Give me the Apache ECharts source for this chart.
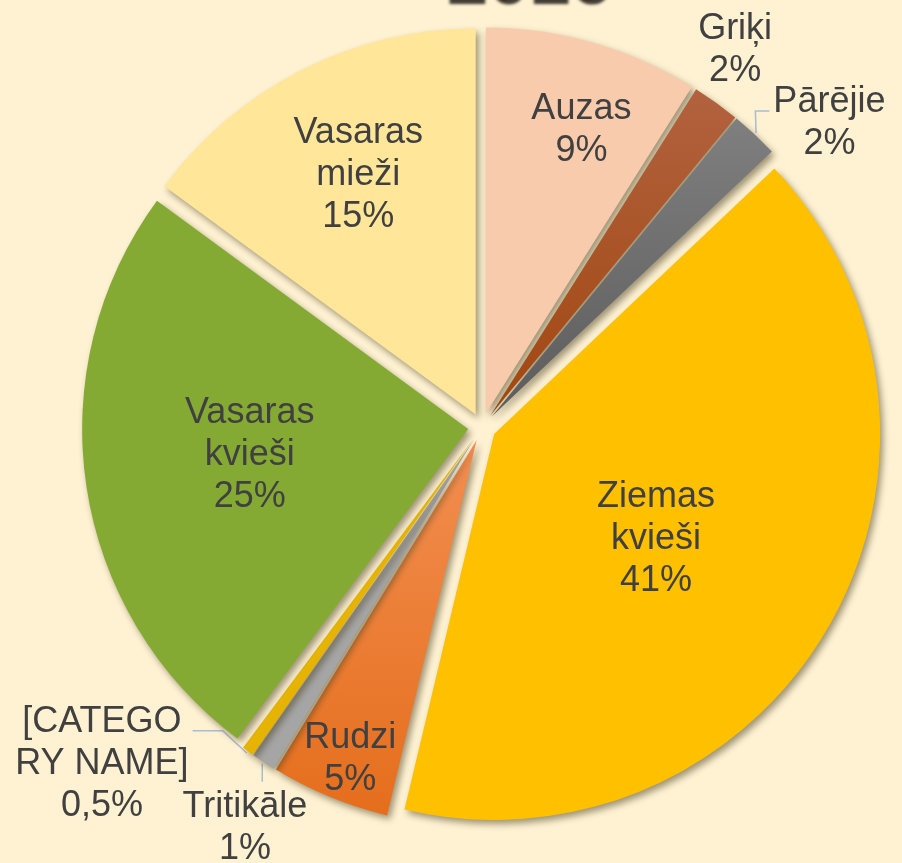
<!DOCTYPE html>
<html>
<head>
<meta charset="utf-8">
<title>2016</title>
<script src="https://cdn.jsdelivr.net/npm/echarts@6/dist/echarts.min.js"></script>
<style>
  html, body { margin: 0; padding: 0; background: #FEF2D2; }
  #main { width: 902px; height: 863px; }
</style>
</head>
<body>
<div id="main"></div>
<script>
// dati (%), pulksteņa rādītāja virzienā no augšas
const categories = ['Auzas', 'Griķi', 'Pārējie', 'Ziemas\nkvieši', 'Rudzi', 'Tritikāle', '[CATEGO\nRY NAME]', 'Vasaras\nkvieši', 'Vasaras\nmieži']
const values = [9, 2, 2, 41, 5, 1, 0.5, 25, 15]

// izskats
const colors = ['#F8CBAD', ['#B2623F', '#A14710'], ['#7F7F7F', '#5C5C5C'], '#FFC000', ['#F28E50', '#E56E1C'], '#A5A5A5', '#E6B400', '#84AA33', '#FFE699']
const labelRadius = [0.775, 1.14, 1.16, 0.5, 0.89, 1.17, 1.28, 0.57, 0.69] // daļa no rādiusa
const labelAngleShift = [2.5, -2, 6, 3, -0.8, -2.6, 13, 1.6, 0.7]
const outside = [false, true, true, false, false, true, true, false, false]
const showLine = [false, false, true, false, false, true, true, false, false]
const CX = 482, CY = 427, R = 386, OFFSET = 14

const total = values.reduce((a, b) => a + b, 0)
const mids = []
let acc = 0
values.forEach(v => { mids.push((acc + v / 2) / total * 360); acc += v })

const fillOf = c => Array.isArray(c)
  ? new echarts.graphic.LinearGradient(0, 0, 0, 1, [{ offset: 0, color: c[0] }, { offset: 1, color: c[1] }])
  : c

const polar = (deg, d) => {
  const a = deg * Math.PI / 180
  return [CX + Math.sin(a) * d, CY - Math.cos(a) * d]
}

const option = {
  backgroundColor: '#FEF2D2',
  title: {
    text: '2016',
    left: 438,
    top: -62,
    textStyle: {
      fontFamily: 'Liberation Sans',
      fontWeight: 'bold',
      fontSize: 74,
      color: '#5C1800',
      textShadowColor: 'rgba(0,0,0,0.75)',
      textShadowBlur: 3,
      textShadowOffsetX: 4,
      textShadowOffsetY: 4
    }
  },
  series: [{
    type: 'pie',
    center: [CX, CY],
    radius: R,
    startAngle: 90,
    clockwise: true,
    selectedMode: 'multiple',
    selectedOffset: OFFSET,
    avoidLabelOverlap: false,
    animation: false,
    emphasis: { disabled: true },
    itemStyle: {
      shadowBlur: 7,
      shadowColor: 'rgba(60,50,20,0.5)',
      shadowOffsetX: 3,
      shadowOffsetY: 4
    },
    label: {
      show: true,
      position: 'inside',
      fontFamily: 'Liberation Sans',
      fontSize: 36,
      lineHeight: 42,
      color: '#404040',
      align: 'center',
      formatter: p => p.name + '\n' + String(p.value).replace('.', ',') + '%'
    },
    labelLine: {
      lineStyle: { color: '#A9BCD0', width: 1.5 }
    },
    labelLayout: p => {
      const i = p.dataIndex
      const r = p.labelRect
      const [tx, ty] = polar(mids[i] + labelAngleShift[i], labelRadius[i] * R)
      const ax = p.align === 'left' ? r.x : p.align === 'right' ? r.x + r.width : r.x + r.width / 2
      const res = { align: 'center', dx: tx - ax, dy: ty - (r.y + r.height / 2) }
      if (showLine[i]) {
        // label and line end up shifted by the selection offset
        const ox = OFFSET * Math.sin(mids[i] * Math.PI / 180)
        const oy = -OFFSET * Math.cos(mids[i] * Math.PI / 180)
        const L = tx - r.width / 2, Rt = tx + r.width / 2, T = ty - r.height / 2
        const [sx, sy] = polar(mids[i], R + 2)
        let pts
        if (sy < T) {
          const ex = Math.min(Math.max(sx, L + 20), Rt - 20)
          pts = [[sx, sy], [ex, T - 4]]
        } else {
          const right = sx > Rt
          const ex = right ? Rt + 4 : L - 4
          const ey = T + 30
          pts = [[sx, sy], [ex + (right ? 30 : -14), ey], [ex, ey]]
        }
        res.labelLinePoints = pts
      }
      return res
    },
    data: categories.map((n, i) => ({
      name: n,
      value: values[i],
      selected: true,
      itemStyle: { color: fillOf(colors[i]) },
      label: { position: outside[i] ? 'outside' : 'inside' },
      labelLine: { show: showLine[i], length: 10, length2: 10 }
    }))
  }]
}

echarts.init(document.getElementById('main')).setOption(option)
</script>
</body>
</html>
